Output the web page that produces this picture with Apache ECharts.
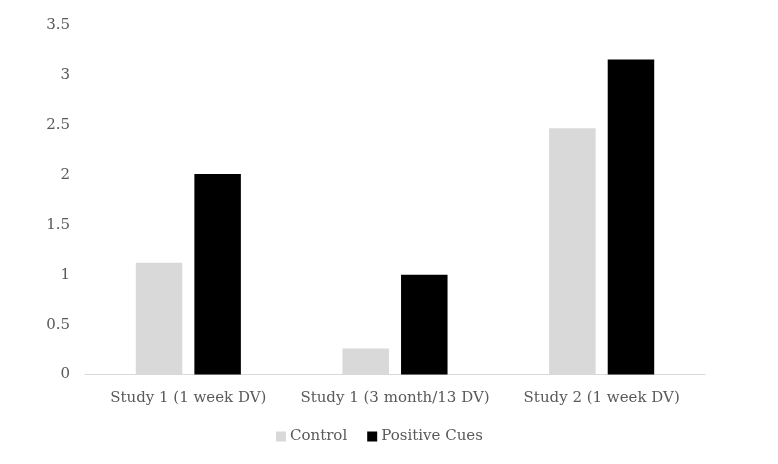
<!DOCTYPE html>
<html><head><meta charset="utf-8">
<script src="https://cdn.jsdelivr.net/npm/echarts@6/dist/echarts.min.js"></script>
<style>html,body{margin:0;padding:0;background:#fff}#c{width:778px;height:464px}</style>
</head><body><div id="c"></div>
<script>
const categories = ['Study 1 (1 week DV)', 'Study 1 (3 month/13 DV)', 'Study 2 (1 week DV)'];
const controlValues = [1.12, 0.26, 2.47];
const positiveCuesValues = [2.01, 1.00, 3.16];
const yTicks = [0, 0.5, 1, 1.5, 2, 2.5, 3, 3.5];

const font = 'DejaVu Serif';
const chart = echarts.init(document.getElementById('c'));
chart.setOption({
  animation: false,
  backgroundColor: '#fff',
  grid: { left: 85, right: 73, top: 25.5, bottom: 89.5, containLabel: false },
  legend: {
    top: 429, left: 276, padding: 0, itemWidth: 10, itemHeight: 10, itemGap: 20,
    icon: 'rect',
    textStyle: { fontFamily: font, fontSize: 15, color: '#595959', padding: [0, 0, 0, -1] },
    data: ['Control', 'Positive Cues']
  },
  xAxis: {
    type: 'category', data: categories,
    axisLine: { lineStyle: { color: '#d9d9d9', width: 1 } },
    axisTick: { show: false },
    axisLabel: { fontFamily: font, fontSize: 15, color: '#595959', margin: 16, interval: 0 }
  },
  yAxis: {
    type: 'value', min: yTicks[0], max: yTicks[yTicks.length - 1], interval: 0.5,
    axisLine: { show: false }, axisTick: { show: false },
    splitLine: { show: false },
    axisLabel: { fontFamily: font, fontSize: 15, color: '#595959', margin: 15 }
  },
  series: [
    { name: 'Control', type: 'bar', data: controlValues, barWidth: 46.5, barGap: '26%',
      itemStyle: { color: '#d9d9d9' } },
    { name: 'Positive Cues', type: 'bar', data: positiveCuesValues, barWidth: 46.5, barGap: '26%',
      itemStyle: { color: '#000000' } }
  ]
});
</script></body></html>
